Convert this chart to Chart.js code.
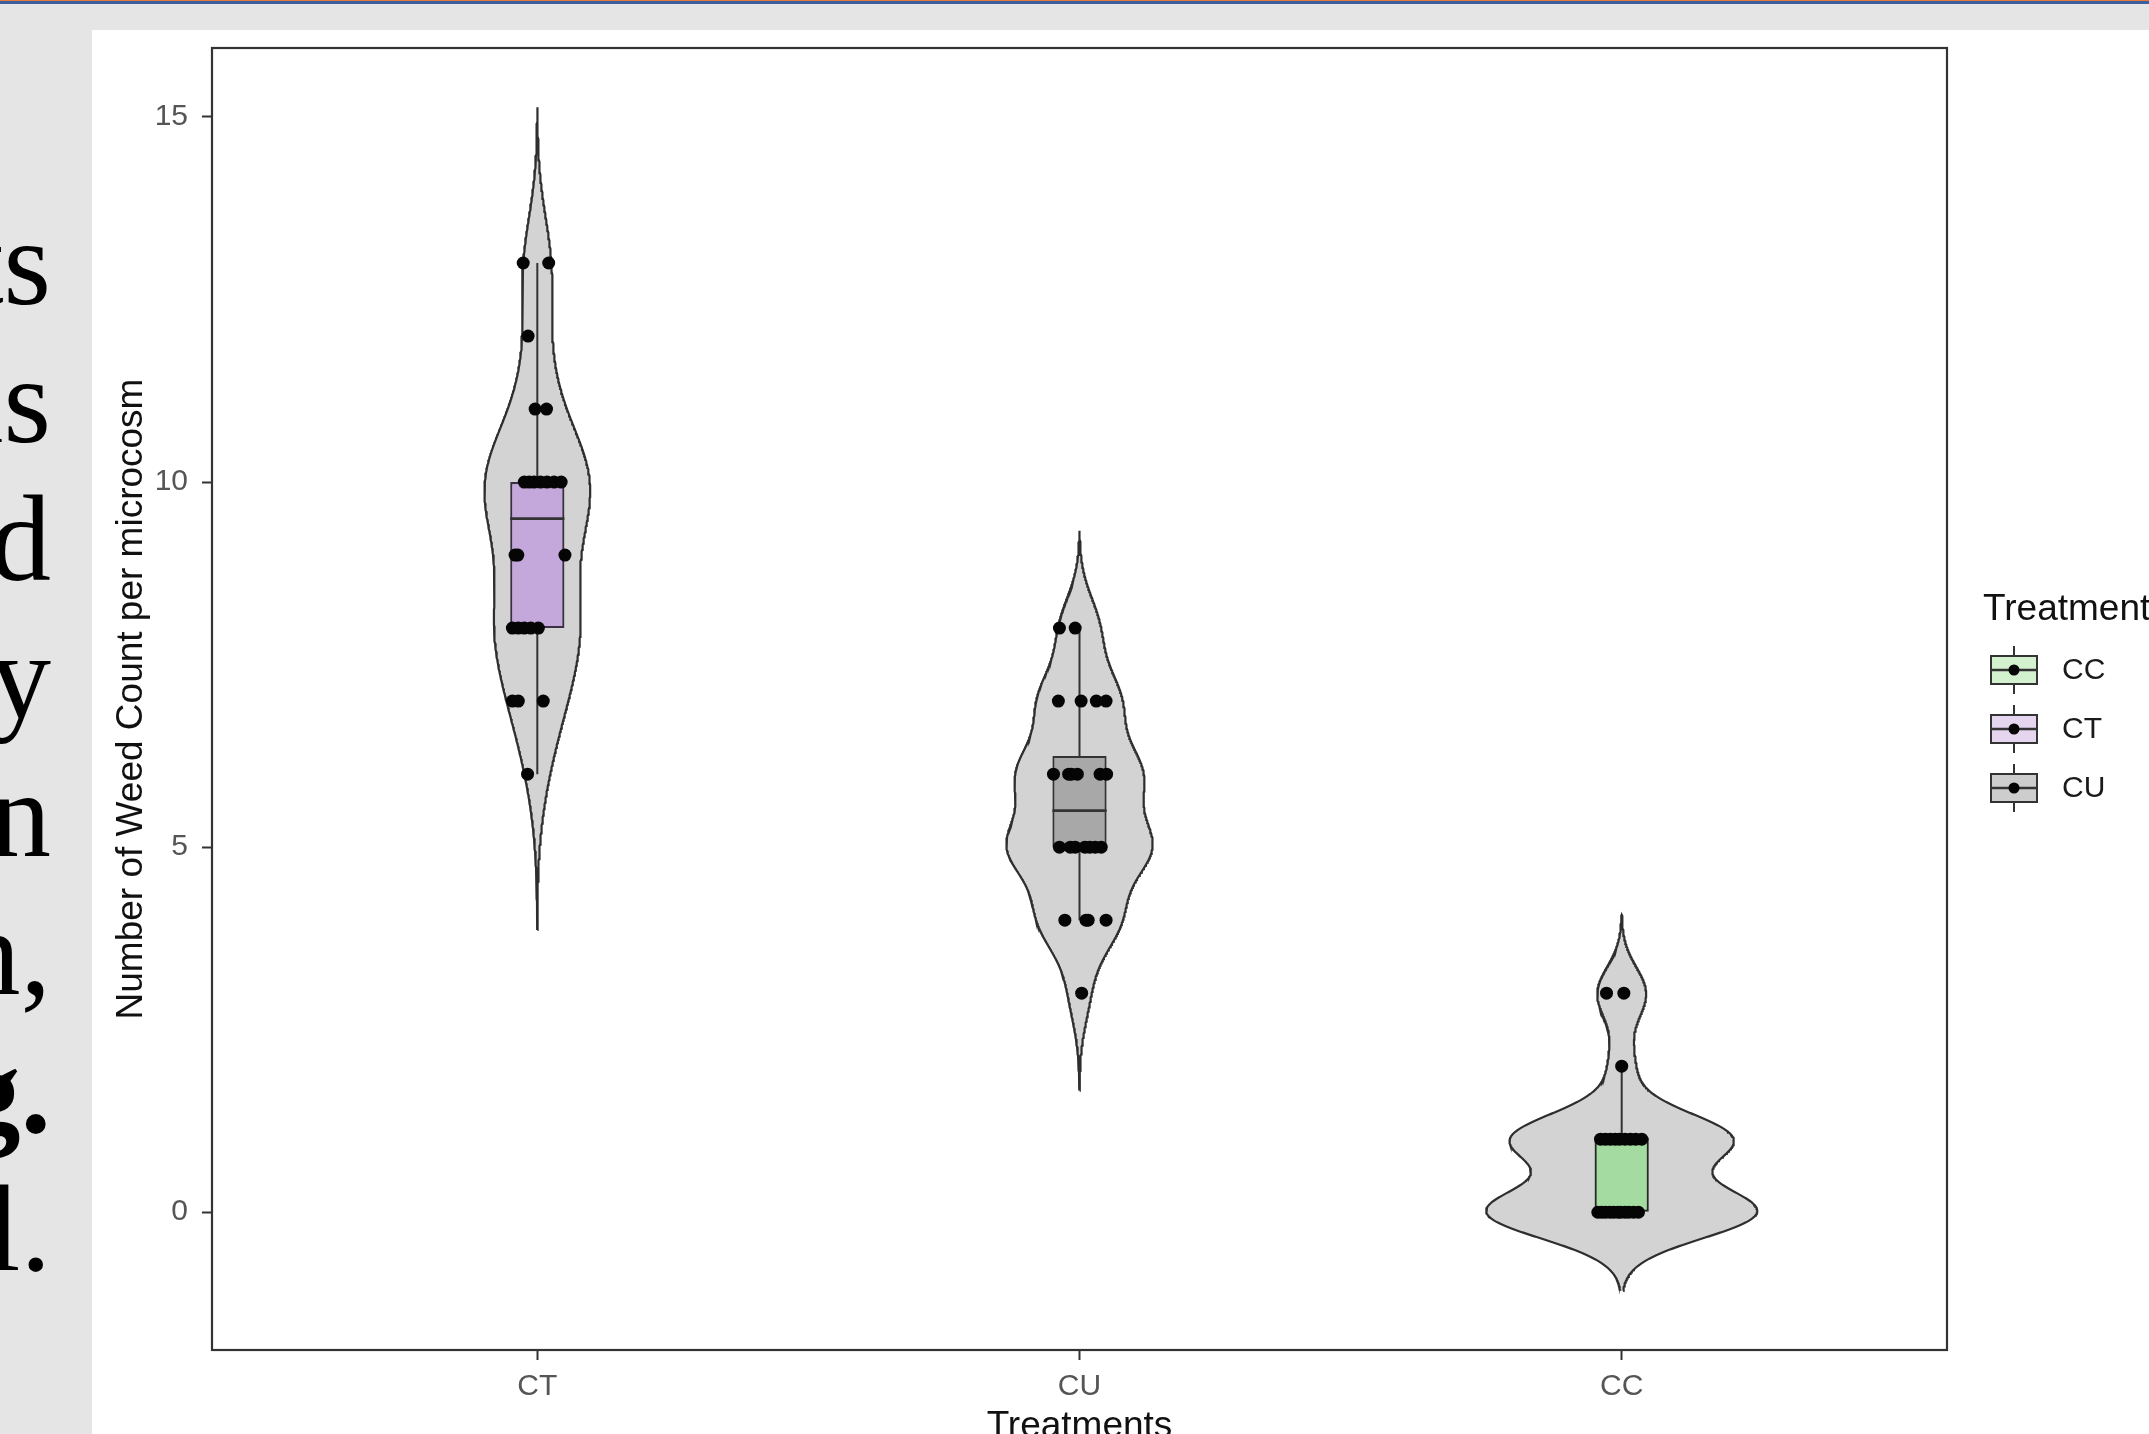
<!DOCTYPE html>
<html>
<head>
<meta charset="utf-8">
<title>Weed count per microcosm by treatment</title>
<script src="https://cdn.jsdelivr.net/npm/chart.js@4.4.1/dist/chart.umd.min.js"></script>
<style>
  html, body { margin: 0; padding: 0; width: 2149px; height: 1434px; overflow: hidden; background: #e5e5e5; }
  #rule-top { position: absolute; left: 0; top: 0; width: 100%; height: 1px; background: #e07b39; }
  #rule-blue { position: absolute; left: 0; top: 1px; width: 100%; height: 3px; background: #3e5f9e; }
  #sheet { position: absolute; left: 92px; top: 30px; right: 0; bottom: 0; background: #ffffff; }
  #side-text {
    position: absolute; left: -549px; top: 194px; width: 600px;
    text-align: right; font-family: 'Liberation Serif', 'Times New Roman', serif;
    font-size: 122px; line-height: 138px; color: #000; white-space: pre;
  }
  #chart { position: absolute; left: 0; top: 0; }
</style>
</head>
<body>
<div id="rule-top"></div>
<div id="rule-blue"></div>
<div id="side-text">ts
ns
d
y
n
n,
<b>g.</b>
l.</div>
<div id="sheet"></div>
<canvas id="chart" width="2149" height="1434"></canvas>
<script>
// Treatments in plotting order along the x axis
const categories = ['CT', 'CU', 'CC'];

// Weed counts per microcosm, with the horizontal jitter of each plotted dot (category units)
const ctValues = [13, 13, 12, 11, 11, 10, 10, 10, 10, 10, 10, 10, 9, 9, 9, 8, 8, 8, 8, 8, 7, 7, 7, 6];
const ctJitter = [-0.026, 0.021, -0.017, -0.004, 0.017, -0.024, -0.015, -0.006, 0.006, 0.018, 0.031, 0.044,
                  -0.041, -0.036, 0.051, -0.046, -0.035, -0.024, -0.012, 0.002, -0.046, -0.035, 0.011, -0.018];
const cuValues = [8, 8, 7, 7, 7, 7, 6, 6, 6, 6, 6, 6, 5, 5, 5, 5, 5, 5, 5, 4, 4, 4, 4, 3];
const cuJitter = [-0.037, -0.008, -0.039, 0.003, 0.031, 0.049, -0.048, -0.020, -0.015, -0.004, 0.038, 0.050,
                  -0.037, -0.017, -0.008, 0.010, 0.019, 0.029, 0.040, -0.027, 0.012, 0.016, 0.049, 0.004];
const ccValues = [3, 3, 2, 1, 1, 1, 1, 1, 1, 1, 1, 1, 0, 0, 0, 0, 0, 0, 0, 0, 0, 0, 0];
const ccJitter = [-0.028, 0.004, 0.000, -0.039, -0.030, -0.021, -0.012, -0.004, 0.006, 0.016, 0.026, 0.037,
                  -0.044, -0.037, -0.030, -0.022, -0.015, -0.007, -0.002, 0.006, 0.013, 0.022, 0.031];

// Axis ticks and legend entries
const yTickValues = [0, 5, 10, 15];
const legendOrder = ['CC', 'CT', 'CU'];

// Styling
const FONT = "'Liberation Sans', Arial, sans-serif";
const boxFill = { CT: '#c4a7db', CU: '#a8a8a8', CC: '#a3dba0' };
const boxEdge = { CT: '#3b3042', CU: '#333333', CC: '#1f2e1f' };
const keyFill = { CT: '#e6d5ef', CU: '#cdcdcd', CC: '#d3f1ce' };
const VIOLIN_WIDTH = 0.5;   // full width of the widest violin, in category units
const BOX_WIDTH = 0.1;

const valuesBy = { CT: ctValues, CU: cuValues, CC: ccValues };
const jitterBy = { CT: ctJitter, CU: cuJitter, CC: ccJitter };

// ---- statistics ----
function quantile(sorted, p) {
  const h = (sorted.length - 1) * p;
  const lo = Math.floor(h);
  const hi = Math.min(lo + 1, sorted.length - 1);
  return sorted[lo] + (h - lo) * (sorted[hi] - sorted[lo]);
}
function boxStats(vals) {
  const s = [...vals].sort((a, b) => a - b);
  const q1 = quantile(s, 0.25), med = quantile(s, 0.5), q3 = quantile(s, 0.75);
  const iqr = q3 - q1;
  const inside = s.filter(v => v >= q1 - 1.5 * iqr && v <= q3 + 1.5 * iqr);
  return { q1, med, q3, lo: inside[0], hi: inside[inside.length - 1], sorted: s };
}
function bandwidth(s) {
  const n = s.length;
  const mean = s.reduce((a, b) => a + b, 0) / n;
  const sd = Math.sqrt(s.reduce((a, b) => a + (b - mean) * (b - mean), 0) / (n - 1));
  const iqr = quantile(s, 0.75) - quantile(s, 0.25);
  const lo = Math.min(sd, iqr / 1.34) || sd || Math.abs(s[0]) || 1;
  return 0.9 * lo * Math.pow(n, -0.2);
}
function density(s, bw) {
  const n = s.length, m = 512;
  const from = s[0] - 3 * bw, to = s[n - 1] + 3 * bw;
  const out = [];
  for (let k = 0; k < m; k++) {
    const y = from + (to - from) * k / (m - 1);
    let d = 0;
    for (const v of s) { const z = (y - v) / bw; d += Math.exp(-0.5 * z * z); }
    out.push({ y, d: d / (n * bw * Math.sqrt(2 * Math.PI)) });
  }
  return out;
}

const groups = categories.map((name, i) => {
  const st = boxStats(valuesBy[name]);
  const bw = bandwidth(st.sorted);
  return { name, x: i + 1, stats: st, dens: density(st.sorted, bw) };
});
const maxDensity = Math.max(...groups.map(g => Math.max(...g.dens.map(p => p.d))));

// y range spans the violins with 5% padding on both ends
const yLow = Math.min(...groups.map(g => g.dens[0].y));
const yHigh = Math.max(...groups.map(g => g.dens[g.dens.length - 1].y));
const yPad = (yHigh - yLow) * 0.05;

// ---- datasets ----
const violinSets = groups.map(g => {
  const half = VIOLIN_WIDTH / 2;
  const right = g.dens.map(p => ({ x: g.x + half * p.d / maxDensity, y: p.y }));
  const left = g.dens.slice().reverse().map(p => ({ x: g.x - half * p.d / maxDensity, y: p.y }));
  return {
    type: 'line', label: 'violin ' + g.name, data: right.concat(left),
    borderColor: '#2e2e2e', borderWidth: 2.2, backgroundColor: '#d3d3d3',
    fill: 'shape', pointRadius: 0, tension: 0, order: 4
  };
});

const boxSet = {
  type: 'bar', label: 'box',
  data: groups.map(g => ({ x: g.x, y: [g.stats.q1, g.stats.q3] })),
  backgroundColor: groups.map(g => boxFill[g.name]),
  borderColor: groups.map(g => boxEdge[g.name]),
  borderWidth: 2.2, borderSkipped: false,
  barPercentage: BOX_WIDTH, categoryPercentage: 1, order: 3
};

const whiskerData = [];
groups.forEach(g => {
  whiskerData.push({ x: g.x, y: g.stats.q3 }, { x: g.x, y: g.stats.hi }, { x: g.x, y: null });
  whiskerData.push({ x: g.x, y: g.stats.q1 }, { x: g.x, y: g.stats.lo }, { x: g.x, y: null });
});
const whiskerSet = {
  type: 'line', label: 'whiskers', data: whiskerData,
  borderColor: '#333333', borderWidth: 2, pointRadius: 0, spanGaps: false, fill: false, order: 2
};

const medianData = [];
groups.forEach(g => {
  medianData.push({ x: g.x - BOX_WIDTH / 2, y: g.stats.med }, { x: g.x + BOX_WIDTH / 2, y: g.stats.med },
                  { x: g.x + BOX_WIDTH / 2, y: null });
});
const medianSet = {
  type: 'line', label: 'medians', data: medianData,
  borderColor: '#333333', borderWidth: 2.8, pointRadius: 0, spanGaps: false, fill: false, order: 1
};

const pointData = [];
groups.forEach(g => {
  valuesBy[g.name].forEach((v, k) => pointData.push({ x: g.x + jitterBy[g.name][k], y: v }));
});
const pointSet = {
  type: 'scatter', label: 'counts', data: pointData,
  pointRadius: 6.5, pointBackgroundColor: '#050505', pointBorderWidth: 0, order: 0
};

// ---- plugins: panel frame and boxplot-style legend ----
const panelBorder = {
  id: 'panelBorder',
  afterDatasetsDraw(chart) {
    const { ctx, chartArea: a } = chart;
    ctx.save();
    ctx.strokeStyle = '#333333';
    ctx.lineWidth = 2.2;
    ctx.strokeRect(a.left, a.top, a.right - a.left, a.bottom - a.top);
    ctx.restore();
  }
};

const treatmentLegend = {
  id: 'treatmentLegend',
  afterDraw(chart) {
    const { ctx, chartArea: a } = chart;
    const x0 = a.right + 36;
    ctx.save();
    ctx.fillStyle = '#111111';
    ctx.font = '37px ' + FONT;
    ctx.textBaseline = 'alphabetic';
    ctx.textAlign = 'left';
    ctx.fillText('Treatment', x0, 620);
    legendOrder.forEach((name, i) => {
      const cx = x0 + 31, cy = 670 + i * 59;
      ctx.strokeStyle = '#333333';
      ctx.lineWidth = 2;
      ctx.beginPath();
      ctx.moveTo(cx, cy - 24); ctx.lineTo(cx, cy + 24);
      ctx.stroke();
      ctx.fillStyle = keyFill[name];
      ctx.fillRect(cx - 23, cy - 14, 46, 28);
      ctx.strokeRect(cx - 23, cy - 14, 46, 28);
      ctx.lineWidth = 2.6;
      ctx.beginPath();
      ctx.moveTo(cx - 23, cy); ctx.lineTo(cx + 23, cy);
      ctx.stroke();
      ctx.fillStyle = '#050505';
      ctx.beginPath();
      ctx.arc(cx, cy, 5.5, 0, Math.PI * 2);
      ctx.fill();
      ctx.fillStyle = '#1a1a1a';
      ctx.font = '30px ' + FONT;
      ctx.textBaseline = 'middle';
      ctx.fillText(name, x0 + 79, cy + 1);
    });
    ctx.restore();
  }
};

Chart.defaults.font.family = FONT;

new Chart(document.getElementById('chart'), {
  type: 'scatter',
  data: { datasets: [...violinSets, boxSet, whiskerSet, medianSet, pointSet] },
  options: {
    responsive: false,
    animation: false,
    devicePixelRatio: 1,
    events: [],
    layout: { padding: { left: 92, top: 48, right: 202, bottom: 0 } },
    plugins: { legend: { display: false }, tooltip: { enabled: false } },
    scales: {
      x: {
        type: 'linear', min: 0.4, max: categories.length + 0.6, offset: false,
        afterBuildTicks: s => { s.ticks = categories.map((c, i) => ({ value: i + 1 })); },
        afterFit: s => { s.height = 84; },
        ticks: {
          autoSkip: false, maxRotation: 0, padding: 9, color: '#555555',
          font: { size: 30 }, callback: v => categories[v - 1]
        },
        grid: { offset: false, drawOnChartArea: false, drawTicks: true, tickLength: 10, tickColor: '#333333', tickWidth: 2 },
        border: { display: false },
        title: {
          display: true, text: 'Treatments', color: '#111111',
          font: { size: 37 }, padding: { top: 0, bottom: -15 }
        }
      },
      y: {
        type: 'linear', min: yLow - yPad, max: yHigh + yPad,
        afterBuildTicks: s => { s.ticks = yTickValues.map(v => ({ value: v })); },
        afterFit: s => { s.width = 120; },
        ticks: { padding: 14, color: '#555555', font: { size: 30 } },
        grid: { offset: false, drawOnChartArea: false, drawTicks: true, tickLength: 10, tickColor: '#333333', tickWidth: 2 },
        border: { display: false },
        title: {
          display: true, text: 'Number of Weed Count per microcosm', color: '#111111',
          font: { size: 37 }, padding: { top: 18, bottom: 0 }
        }
      }
    }
  },
  plugins: [panelBorder, treatmentLegend]
});
</script>
</body>
</html>
